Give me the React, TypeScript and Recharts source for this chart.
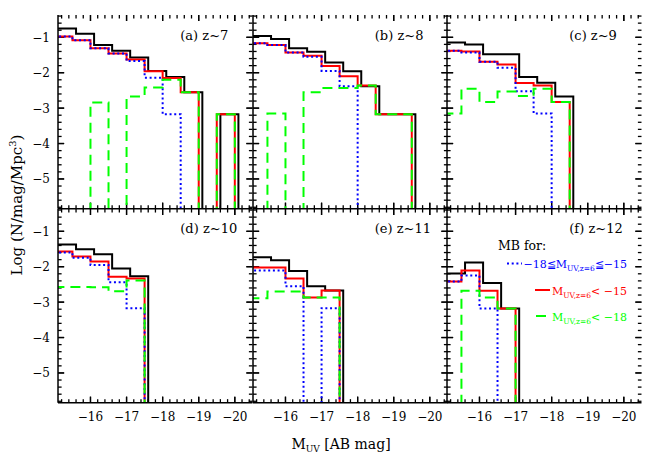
import React from "react";
import { LineChart, Line, XAxis, YAxis, ReferenceLine } from "recharts";

// bin edges in M_UV; the coloured histograms share these, the total is drawn 0.1 mag offset
const binEdges = [-15.0, -15.5, -16.0, -16.5, -17.0, -17.5, -18.0, -18.5, -19.0, -19.5, -20.0, -20.5];
const binEdgesTotal = [-15.1, -15.6, -16.1, -16.6, -17.1, -17.6, -18.1, -18.6, -19.1, -19.6, -20.1, -20.6];

// stand-in for log(0): empty bins drop below the plotted range
const E = -9;

// log number density per bin (one value per bin, left to right)
const z7Total = [-0.75, -0.9, -1.22, -1.38, -1.57, -1.95, -2.12, -2.55, E, -3.17, E];
const z7Lt15 = [-0.98, -1.08, -1.31, -1.46, -1.63, -1.96, -2.15, -2.55, E, -3.17, E];
const z7Mid = [-0.98, -1.08, -1.31, -1.46, -1.67, -2.14, -3.17, E, E, E, E];
const z7Lt18 = [E, E, -2.84, E, -2.67, -2.42, -2.2, -2.55, E, -3.17, E];

const z8Total = [-0.96, -1.05, -1.31, -1.41, -1.71, -1.96, -2.38, -3.17, -3.17, E, E];
const z8Lt15 = [-1.17, -1.22, -1.43, -1.52, -1.81, -2.1, -2.36, -3.17, -3.17, E, E];
const z8Mid = [-1.17, -1.22, -1.43, -1.55, -1.95, -2.38, E, E, E, E, E];
const z8Lt18 = [E, -3.15, E, -2.55, -2.43, -2.43, -2.36, -3.17, -3.17, E, E];

const z9Total = [-1.15, -1.2, -1.48, -1.48, -2.12, -2.28, -2.67, E, E, E, E];
const z9Lt15 = [-1.38, -1.4, -1.69, -1.77, -2.29, -2.36, -2.83, E, E, E, E];
const z9Mid = [-1.38, -1.43, -1.69, -1.86, -2.52, -3.15, E, E, E, E, E];
const z9Lt18 = [-3.15, -2.45, -2.83, -2.53, -2.66, -2.45, -2.83, E, E, E, E];

const z10Total = [-1.37, -1.51, -1.65, -2.05, -2.27, E, E, E, E, E, E];
const z10Lt15 = [-1.57, -1.71, -1.85, -2.28, -2.33, E, E, E, E, E, E];
const z10Mid = [-1.6, -1.75, -1.95, -2.44, -3.17, E, E, E, E, E, E];
const z10Lt18 = [-2.57, -2.57, -2.58, -2.69, -2.39, E, E, E, E, E, E];

const z11Total = [-1.73, -1.82, -2.12, -2.55, -2.67, E, E, E, E, E, E];
const z11Lt15 = [-2.02, -2.02, -2.33, -2.87, -2.67, E, E, E, E, E, E];
const z11Mid = [-2.11, -2.11, -2.55, E, -3.17, E, E, E, E, E, E];
const z11Lt18 = [-2.89, -2.7, -2.7, -2.87, -2.87, E, E, E, E, E, E];

const z12Total = [-2.19, -1.88, -2.46, -3.18, E, E, E, E, E, E, E];
const z12Lt15 = [-2.42, -2.11, -2.68, -3.18, E, E, E, E, E, E, E];
const z12Mid = [-2.42, -2.25, -3.18, E, E, E, E, E, E, E, E];
const z12Lt18 = [E, -2.68, -2.87, -3.18, E, E, E, E, E, E, E];

const panelLabels = ["(a) z~7", "(b) z~8", "(c) z~9", "(d) z~10", "(e) z~11", "(f) z~12"];

const xMajorTicks = [-16, -17, -18, -19, -20];
const yMajorTicks = [-1, -2, -3, -4, -5];
const X_LEFT = -15.1;
const X_RIGHT = -20.49;
const Y_TOP = -0.37;
const Y_BOTTOM = -5.84;
const xDomain = [X_RIGHT, X_LEFT];
const yDomain = [Y_BOTTOM, Y_TOP];

const minorTicks = (from: number, to: number) => {
  const out: number[] = [];
  for (let v = from; v >= to - 1e-6; v -= 0.2) out.push(Math.round(v * 10) / 10);
  return out;
};
const xTicks = [...xMajorTicks, ...minorTicks(-15.2, -20.4)];
const yTicks = [...yMajorTicks, ...minorTicks(-0.4, -5.8)];

const steps = (edges: number[], values: number[]) =>
  edges.map((x, i) => ({ x, y: i < values.length ? values[i] : E }));

const panels = [
  { total: z7Total, lt15: z7Lt15, mid: z7Mid, lt18: z7Lt18 },
  { total: z8Total, lt15: z8Lt15, mid: z8Mid, lt18: z8Lt18 },
  { total: z9Total, lt15: z9Lt15, mid: z9Mid, lt18: z9Lt18 },
  { total: z10Total, lt15: z10Lt15, mid: z10Mid, lt18: z10Lt18 },
  { total: z11Total, lt15: z11Lt15, mid: z11Mid, lt18: z11Lt18 },
  { total: z12Total, lt15: z12Lt15, mid: z12Mid, lt18: z12Lt18 },
];

const FONT = "DejaVu Serif";
const PANEL_W = 194.5;
const PANEL_H = 193.7;
const colLeft = [58.3, 252.8, 447.3];
const rowTop = [15, 208.7];
const AXIS_W = 40;
const AXIS_H = 26;
const PAD = 3;

// inward tick lengths, in data units (about 6 px major, 3.5 px minor)
const TX_MAJOR = 0.17;
const TX_MINOR = 0.1;
const TY_MAJOR = 0.17;
const TY_MINOR = 0.1;

const isMajor = (v: number) => Math.abs(v - Math.round(v)) < 1e-6;
const fmt = (v: number) => `\u2212${Math.abs(v)}`;

function labelRenderer(side: "bottom" | "left", show: boolean) {
  return (props: any) => {
    const x = Number(props.x);
    const y = Number(props.y);
    const v = Number(props.payload.value);
    if (!show || !isMajor(v)) return <g />;
    return side === "bottom" ? (
      <text x={x} y={y + 18} textAnchor="middle" fontSize={12} fontFamily={FONT} fill="#000">
        {fmt(v)}
      </text>
    ) : (
      <text x={x - 8} y={y + 4.5} textAnchor="end" fontSize={12} fontFamily={FONT} fill="#000">
        {fmt(v)}
      </text>
    );
  };
}

const frame = { stroke: "#000", strokeWidth: 1.5 };

function tickMarks() {
  const segs: { key: string; seg: { x: number; y: number }[] }[] = [];
  xTicks.forEach((v) => {
    const l = isMajor(v) ? TY_MAJOR : TY_MINOR;
    segs.push({ key: `b${v}`, seg: [{ x: v, y: Y_BOTTOM }, { x: v, y: Y_BOTTOM + l }] });
    segs.push({ key: `t${v}`, seg: [{ x: v, y: Y_TOP }, { x: v, y: Y_TOP - l }] });
  });
  yTicks.forEach((v) => {
    const l = isMajor(v) ? TX_MAJOR : TX_MINOR;
    segs.push({ key: `l${v}`, seg: [{ x: X_LEFT, y: v }, { x: X_LEFT - l, y: v }] });
    segs.push({ key: `r${v}`, seg: [{ x: X_RIGHT, y: v }, { x: X_RIGHT + l, y: v }] });
  });
  return segs.map((s) => (
    <ReferenceLine
      key={s.key}
      xAxisId="b"
      yAxisId="l"
      segment={s.seg}
      stroke="#000"
      strokeWidth={1.3}
      ifOverflow="visible"
    />
  ));
}

function Panel({ idx }: { idx: number }) {
  const p = panels[idx];
  const col = idx % 3;
  const row = Math.floor(idx / 3);
  const common = {
    type: "stepAfter" as const,
    dataKey: "y",
    xAxisId: "b",
    yAxisId: "l",
    dot: false,
    activeDot: false,
    isAnimationActive: false,
    strokeWidth: 2,
  };
  const axisCommon = {
    type: "number" as const,
    allowDataOverflow: true,
    interval: 0,
    tickSize: 0,
    tickMargin: 0,
    axisLine: frame,
    tickLine: false,
  };
  return (
    <div style={{ position: "absolute", left: colLeft[col] - AXIS_W, top: rowTop[row] - PAD }}>
      <LineChart
        width={AXIS_W + PANEL_W + PAD}
        height={PAD + PANEL_H + AXIS_H}
        margin={{ top: PAD, right: PAD, left: 0, bottom: 0 }}
      >
        <XAxis
          {...axisCommon}
          xAxisId="b"
          dataKey="x"
          orientation="bottom"
          domain={xDomain}
          reversed
          ticks={xMajorTicks}
          height={AXIS_H}
          tick={labelRenderer("bottom", row === 1)}
        />
        <XAxis
          {...axisCommon}
          xAxisId="t"
          dataKey="x"
          orientation="top"
          domain={xDomain}
          reversed
          height={0}
          tick={false}
        />
        <YAxis
          {...axisCommon}
          yAxisId="l"
          orientation="left"
          domain={yDomain}
          ticks={yMajorTicks}
          width={AXIS_W}
          tick={labelRenderer("left", col === 0)}
        />
        <YAxis
          {...axisCommon}
          yAxisId="r"
          orientation="right"
          domain={yDomain}
          width={0}
          tick={false}
        />
        {tickMarks()}
        <Line {...common} data={steps(binEdgesTotal, p.total)} stroke="#000000" />
        <Line {...common} data={steps(binEdges, p.lt15)} stroke="#ff0000" />
        <Line {...common} data={steps(binEdges, p.mid)} stroke="#0000ff" strokeDasharray="2 2.7" />
        <Line {...common} data={steps(binEdges, p.lt18)} stroke="#00ff00" strokeDasharray="10 6" />
      </LineChart>
    </div>
  );
}

export default function App() {
  return (
    <div style={{ position: "absolute", left: 0, top: 0, width: 650, height: 459, background: "#fff" }}>
      {panels.map((_, i) => (
        <Panel key={i} idx={i} />
      ))}
      <svg
        width={650}
        height={459}
        style={{ position: "absolute", left: 0, top: 0, pointerEvents: "none" }}
        fontFamily={FONT}
      >
        {panelLabels.map((label, i) => (
          <text
            key={label}
            x={colLeft[i % 3] + 122}
            y={rowTop[Math.floor(i / 3)] + 24.5}
            fontSize={13}
            fill="#000"
          >
            {label}
          </text>
        ))}
        <text
          x={17}
          y={205}
          transform="rotate(-90 17 205)"
          textAnchor="middle"
          dominantBaseline="central"
          fontSize={15}
          fill="#000"
        >
          Log (N/mag/Mpc<tspan dy={-5} fontSize={10}>3</tspan>
          <tspan dy={5}>)</tspan>
        </text>
        <text x={341} y={449} textAnchor="middle" fontSize={14} fill="#000">
          M<tspan dy={3} fontSize={9}>UV</tspan>
          <tspan dy={-3}> [AB mag]</tspan>
        </text>

        {/* legend in panel (f) */}
        <text x={498} y={249.5} fontSize={12.5} fill="#000">
          MB for:
        </text>
        <line x1={507} y1={263.5} x2={522} y2={263.5} stroke="#0000ff" strokeWidth={2} strokeDasharray="2 2.7" />
        <text x={627} y={268} textAnchor="end" fontSize={11} fill="#0000ff">
          {"\u221218\u2266M"}
          <tspan dy={3} fontSize={7.5}>UV,z=6</tspan>
          <tspan dy={-3}>{"\u2266\u221215"}</tspan>
        </text>
        <line x1={535} y1={290} x2={550} y2={290} stroke="#ff0000" strokeWidth={2} />
        <text x={627} y={294.5} textAnchor="end" fontSize={11} fill="#ff0000">
          M<tspan dy={3} fontSize={7.5}>UV,z=6</tspan>
          <tspan dy={-3}>{"< \u221215"}</tspan>
        </text>
        <line x1={536} y1={316} x2={546} y2={316} stroke="#00ff00" strokeWidth={2} />
        <text x={627} y={320.5} textAnchor="end" fontSize={11} fill="#00ff00">
          M<tspan dy={3} fontSize={7.5}>UV,z=6</tspan>
          <tspan dy={-3}>{"< \u221218"}</tspan>
        </text>
      </svg>
    </div>
  );
}
